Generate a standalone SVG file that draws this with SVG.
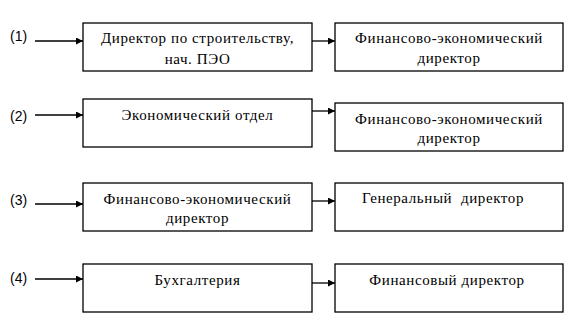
<svg xmlns="http://www.w3.org/2000/svg" width="586" height="322" viewBox="0 0 586 322">
<style>
.box{fill:#fff;stroke:#000;stroke-width:1.3}
.t{font-family:"Liberation Serif","Times New Roman",serif;font-size:15px;letter-spacing:0.6px;fill:#000;text-anchor:middle}
.lbl{font-family:"Liberation Sans",Arial,sans-serif;font-size:14px;fill:#000}
.ln{stroke:#000;stroke-width:1.3;fill:none;marker-end:url(#ah)}
</style>
<defs>
<marker id="ah" markerWidth="8" markerHeight="7" refX="7" refY="3.5" orient="auto" markerUnits="userSpaceOnUse">
<path d="M0,0 L7,3.5 L0,7 z" fill="#000"/>
</marker>
</defs>
<rect width="586" height="322" fill="#fff"/>
<g id="connectors">
<line class="ln" x1="35" y1="41" x2="83" y2="41"/>
<line class="ln" x1="312" y1="41" x2="335" y2="41"/>
<line class="ln" x1="35" y1="115" x2="83" y2="115"/>
<line class="ln" x1="312" y1="111" x2="335" y2="111"/>
<line class="ln" x1="35" y1="204" x2="83" y2="204"/>
<line class="ln" x1="312" y1="201" x2="335" y2="201"/>
<line class="ln" x1="35" y1="279" x2="83" y2="279"/>
<line class="ln" x1="312" y1="283" x2="335" y2="283"/>
</g>
<g id="labels">
<text class="lbl" x="10" y="41">(1)</text>
<text class="lbl" x="10" y="121">(2)</text>
<text class="lbl" x="10" y="205">(3)</text>
<text class="lbl" x="10" y="283">(4)</text>
</g>
<g id="n1a"><rect class="box" x="83" y="23" width="229" height="48"/>
<text class="t" x="197.5" y="43">Директор по строительству,</text>
<text class="t" x="197.5" y="64">нач. ПЭО</text></g>
<g id="n1b"><rect class="box" x="335" y="23" width="228" height="48"/>
<text class="t" x="449" y="43">Финансово-экономический</text>
<text class="t" x="449" y="63">директор</text></g>
<g id="n2a"><rect class="box" x="83" y="99" width="229" height="48"/>
<text class="t" x="197.5" y="120">Экономический отдел</text></g>
<g id="n2b"><rect class="box" x="335" y="103" width="228" height="48"/>
<text class="t" x="449" y="124">Финансово-экономический</text>
<text class="t" x="449" y="143">директор</text></g>
<g id="n3a"><rect class="box" x="83" y="183" width="229" height="48"/>
<text class="t" x="197.5" y="204">Финансово-экономический</text>
<text class="t" x="197.5" y="223">директор</text></g>
<g id="n3b"><rect class="box" x="335" y="183" width="228" height="48"/>
<text class="t" x="443" y="203" xml:space="preserve">Генеральный  директор</text></g>
<g id="n4a"><rect class="box" x="83" y="264" width="229" height="48"/>
<text class="t" x="197.5" y="285">Бухгалтерия</text></g>
<g id="n4b"><rect class="box" x="335" y="264" width="228" height="48"/>
<text class="t" x="447" y="285">Финансовый директор</text></g>
</svg>
